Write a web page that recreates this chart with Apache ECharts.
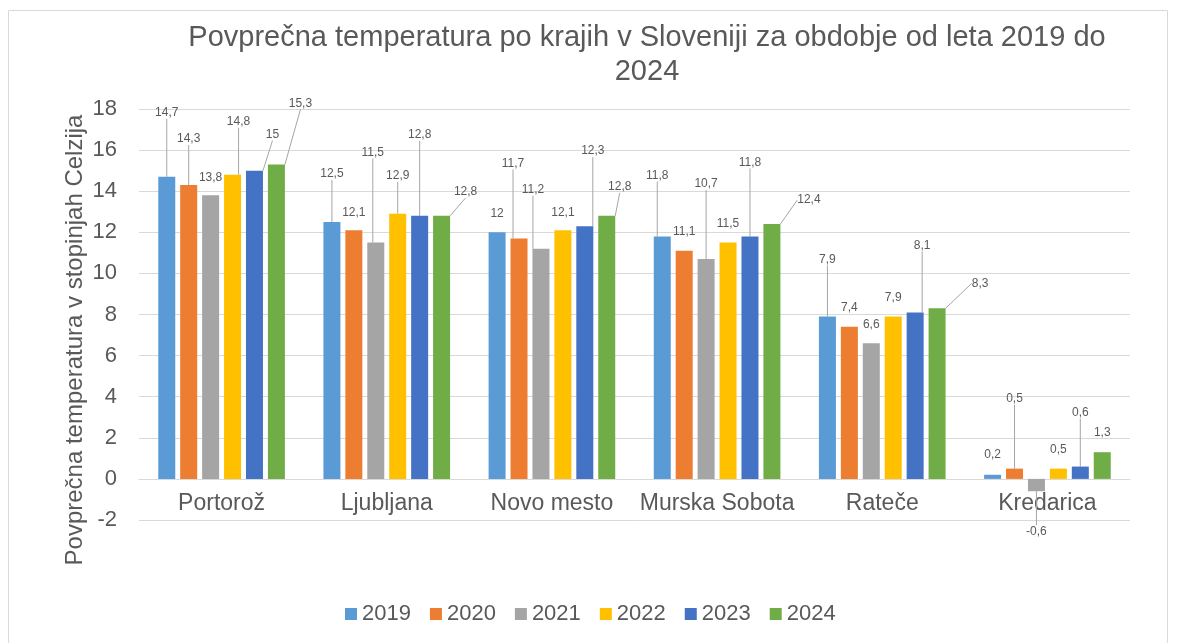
<!DOCTYPE html>
<html lang="sl">

<head>
  <meta charset="UTF-8">
  <title>Povprečna temperatura po krajih</title>
  <script src="https://cdn.jsdelivr.net/npm/echarts@6/dist/echarts.min.js"></script>
  <style>
    body {
      margin: 0;
      padding: 0;
      background-color: #ffffff;
    }
  </style>
</head>

<body>
  <div id="chart" style="width: 1178px; height: 643px;"></div>
  <script>
    var categories = ['Portorož', 'Ljubljana', 'Novo mesto', 'Murska Sobota', 'Rateče', 'Kredarica'];
    var years = ['2019', '2020', '2021', '2022', '2023', '2024'];

    // povprečne temperature po letih (po krajih)
    var t2019 = [14.7, 12.5, 12, 11.8, 7.9, 0.2];
    var t2020 = [14.3, 12.1, 11.7, 11.1, 7.4, 0.5];
    var t2021 = [13.8, 11.5, 11.2, 10.7, 6.6, -0.6];
    var t2022 = [14.8, 12.9, 12.1, 11.5, 7.9, 0.5];
    var t2023 = [15, 12.8, 12.3, 11.8, 8.1, 0.6];
    var t2024 = [15.3, 12.8, 12.8, 12.4, 8.3, 1.3];
    var values = [t2019, t2020, t2021, t2022, t2023, t2024];

    var colors = ['#5B9BD5', '#ED7D31', '#A5A5A5', '#FFC000', '#4472C4', '#70AD47'];

    // odmik oznak od konca stolpca (px) in zamik v desno (px)
    var labelLift = [
      [64, 48, 19, 61, 57, 20],
      [46, 18, 75, 19, 19, 70],
      [18, 90, 59, 75, 19, 40],
      [53, 38, 18, 19, 19, 19],
      [36, 81, 75, 74, 67, 54],
      [61, 24, 29, 24, 25, 19]
    ];
    var labelShift = [
      [0, 0, 0, -5, 0, 0],
      [0, 0, -6, 0, 0, 0],
      [0, -3, -8, 0, 0, 0],
      [6, 0, 0, 0, 0, 0],
      [18, 0, 8, 0, 7, 0],
      [24, 24, 13, 37, 43, 0]
    ];

    var font = "'Liberation Sans', Arial, sans-serif";
    var textColor = '#595959';

    var chartDom = document.getElementById('chart');
    var myChart = echarts.init(chartDom);

    var series = years.map(function (year, s) {
      return {
        name: year,
        type: 'bar',
        barWidth: 17,
        barGap: '29%',
        itemStyle: { color: colors[s] },
        data: values[s].map(function (v, i) {
          return { value: v, labelLine: { show: labelLift[s][i] > 22 } };
        }),
        label: {
          show: true,
          position: 'top',
          fontFamily: font,
          fontSize: 12,
          color: textColor,
          formatter: function (p) {
            return String(p.value).replace('.', ',');
          }
        },
        labelLine: {
          show: true,
          lineStyle: { color: '#A6A6A6', width: 1 }
        },
        labelLayout: function (p) {
          var r = p.rect;
          var v = values[p.seriesIndex][p.dataIndex];
          var lift = labelLift[p.seriesIndex][p.dataIndex];
          var cx = r.x + r.width / 2 + labelShift[p.seriesIndex][p.dataIndex];
          var cy = v >= 0 ? r.y - lift : r.y + r.height + lift;
          return { x: cx, y: cy, align: 'center', verticalAlign: 'middle' };
        }
      };
    });

    var option = {
      backgroundColor: '#ffffff',
      animation: false,
      textStyle: { fontFamily: font },
      grid: {
        left: 139,
        right: 48,
        top: 109,
        bottom: 123
      },
      legend: {
        data: years,
        left: 340,
        top: 598,
        icon: 'rect',
        itemWidth: 12,
        itemHeight: 12,
        itemGap: 19,
        textStyle: { fontFamily: font, fontSize: 22, color: textColor }
      },
      xAxis: {
        type: 'category',
        data: categories,
        offset: -41,
        axisTick: { show: false },
        axisLine: { onZero: false, lineStyle: { color: '#D9D9D9', width: 1 } },
        axisLabel: { interval: 0, fontFamily: font, fontSize: 23, color: textColor, margin: 13 }
      },
      yAxis: {
        type: 'value',
        min: -2,
        max: 18,
        interval: 2,
        axisLine: { show: false },
        axisTick: { show: false },
        axisLabel: { fontFamily: font, fontSize: 22, color: textColor, margin: 22 },
        splitLine: { lineStyle: { color: '#D9D9D9', width: 1 } }
      },
      graphic: [
        {
          type: 'rect',
          silent: true,
          shape: { x: 8.5, y: 10.5, width: 1159, height: 640 },
          style: { fill: null, stroke: '#D9D9D9', lineWidth: 1 }
        },
        {
          type: 'text',
          x: 647,
          y: 21,
          style: {
            text: 'Povprečna temperatura po krajih v Sloveniji za obdobje od leta 2019 do\n2024',
            font: '29px ' + font,
            fill: textColor,
            textAlign: 'center',
            textVerticalAlign: 'top',
            lineHeight: 34
          }
        },
        {
          type: 'text',
          x: 75,
          y: 340,
          rotation: Math.PI / 2,
          style: {
            text: 'Povprečna temperatura v stopinjah Celzija',
            font: '24px ' + font,
            fill: textColor,
            textAlign: 'center',
            textVerticalAlign: 'middle'
          }
        }
      ],
      series: series
    };

    option && myChart.setOption(option);
  </script>
</body>

</html>
